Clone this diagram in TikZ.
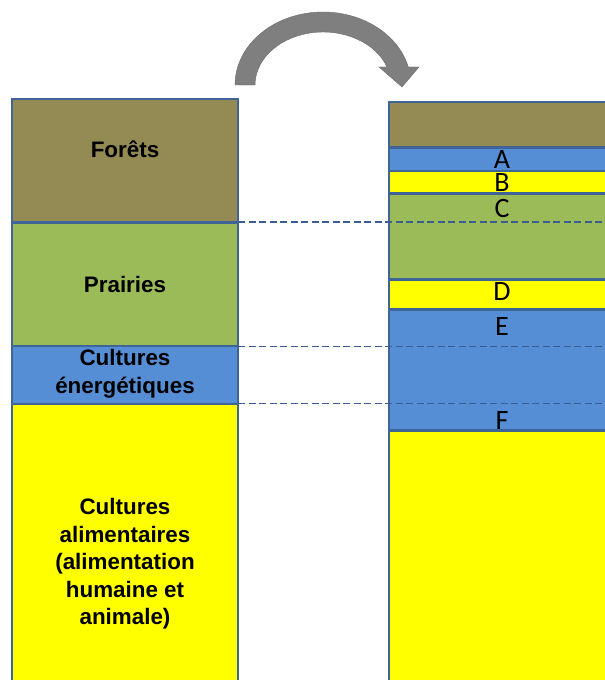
\documentclass[tikz,border=0pt]{standalone}
\usepackage{fontspec}
\setmainfont{Liberation Sans}
\newfontfamily\letterfont{Carlito}
\usepackage{xcolor}
\definecolor{foret}{HTML}{948A54}
\definecolor{prairie}{HTML}{9BBB59}
\definecolor{energie}{HTML}{558ED5}
\definecolor{aliment}{HTML}{FFFF00}
\definecolor{bordure}{HTML}{3F6497}
\definecolor{niveau}{HTML}{3A5E94}
\definecolor{fleche}{HTML}{7F7F7F}
\tikzset{
    band-box/.style = {draw=bordure, line width=2.9pt},
    band-label/.style = {font=\fontsize{22.4}{27.5}\selectfont\bfseries, align=center, anchor=base, inner sep=0pt},
    letter-label/.style = {font=\letterfont\fontsize{28}{28}\selectfont, inner sep=0pt},
    level-line/.style = {draw=niveau, line width=1.6pt, dash pattern=on 7pt off 3.5pt},
}

\begin{document}
\begin{tikzpicture}[x=1pt,y=1pt]
\useasboundingbox (0,0) rectangle (605,680);

% curved arrow
\fill[fleche, draw=black!58, line width=0.4pt] (235,595) arc[start angle=180, end angle=14.3, x radius=88, y radius=73]
    -- (419,613) -- (402,593) -- (379,613) -- (387,613)
    arc[start angle=19.9, end angle=180, x radius=68, y radius=53] -- cycle;

% left column
\draw[band-box, fill=foret] (12,457.5) rectangle (238,581);
\draw[band-box, fill=prairie] (12,334) rectangle (238,457.5);
\draw[band-box, fill=energie] (12,276) rectangle (238,334);
\draw[band-box, fill=aliment] (12,-10) rectangle (238,276);

% labels sit on the baseline of their last line
\node[band-label] (forets) at (125,522.7) {Forêts};
\node[band-label] (prairies) at (125,387.7) {Prairies};
\node[band-label] (energetiques) at (125,286.7) {Cultures\\énergétiques};
\node[band-label] (alimentaires) at (125,55) {Cultures\\alimentaires\\(alimentation\\humaine et\\animale)};

% right column
\draw[band-box, fill=foret] (389,532.3) rectangle (620,578);
\draw[band-box, fill=energie] (389,509) rectangle (620,532.3);
\draw[band-box, fill=aliment] (389,486.7) rectangle (620,509);
\draw[band-box, fill=prairie] (389,400.5) rectangle (620,486.7);
\draw[band-box, fill=aliment] (389,370.5) rectangle (620,400.5);
\draw[band-box, fill=energie] (389,249.2) rectangle (620,370.5);
\draw[band-box, fill=aliment] (389,-10) rectangle (620,249.2);

\node[letter-label] (a) at (502,520) {A};
\node[letter-label] (b) at (502,497.2) {B};
\node[letter-label] (c) at (502,471) {C};
\node[letter-label] (d) at (502,388) {D};
\node[letter-label] (e) at (502,353) {E};
\node[letter-label] (f) at (502,259) {F};

% level lines
\coordinate (niveau-1) at (238,457.7);
\coordinate (niveau-2) at (238,333.3);
\coordinate (niveau-3) at (238,276.3);
\coordinate (bord-1) at (605,457.7);
\coordinate (bord-2) at (605,333.3);
\coordinate (bord-3) at (605,276.3);
\draw[level-line] (niveau-1) -- (bord-1);
\draw[level-line] (niveau-2) -- (bord-2);
\draw[level-line] (niveau-3) -- (bord-3);
\end{tikzpicture}
\end{document}
